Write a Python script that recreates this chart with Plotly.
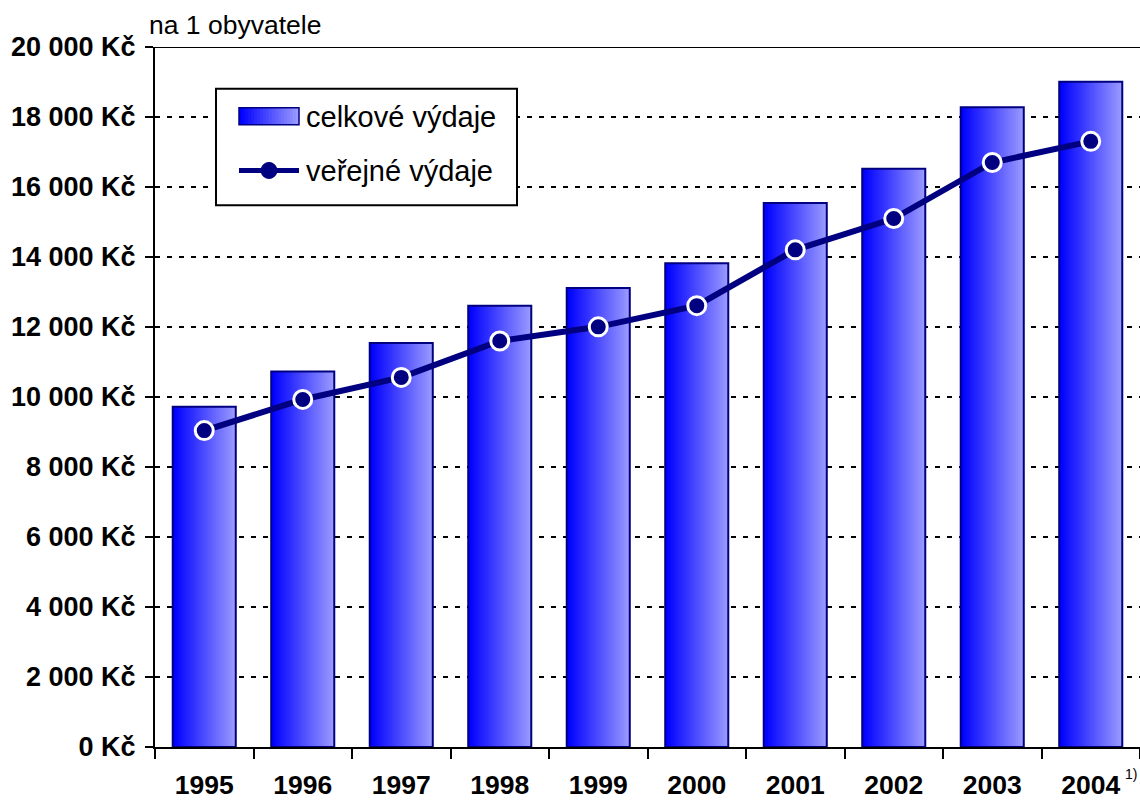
import plotly.graph_objects as go

# ---- data ----
years = ["1995", "1996", "1997", "1998", "1999", "2000", "2001", "2002", "2003", "2004"]
total_spending = [9720, 10730, 11540, 12610, 13115, 13820, 15540, 16520, 18280, 19010]
public_spending = [9040, 9930, 10560, 11600, 12005, 12610, 14205, 15100, 16700, 17305]
y_tick_values = [0, 2000, 4000, 6000, 8000, 10000, 12000, 14000, 16000, 18000, 20000]
y_tick_labels = ["0 Kč", "2 000 Kč", "4 000 Kč", "6 000 Kč", "8 000 Kč", "10 000 Kč",
                 "12 000 Kč", "14 000 Kč", "16 000 Kč", "18 000 Kč", "20 000 Kč"]
name_total = "celkové výdaje"
name_public = "veřejné výdaje"
unit_label = "na 1 obyvatele"
footnote = "1)"

FONT = "Liberation Sans, Arial, sans-serif"
NAVY = "#000080"
W = 1140
H = 800
ML, MR, MT, MB = 155, 0, 47, 50
PW = W - ML - MR
PH = H - MT - MB

def lerp_color(t):
    r = int(round(0 + (153 - 0) * t))
    g = int(round(0 + (153 - 0) * t))
    return f"rgb({r},{g},255)"

fig = go.Figure()

bar_w = 0.64
N = 32
for i in range(N):
    t = i / (N - 1)
    off = -bar_w / 2 + i * bar_w / N
    fig.add_trace(go.Bar(
        x=years, y=total_spending, width=bar_w - i * bar_w / N, offset=off,
        marker=dict(color=lerp_color(t), line=dict(width=0)),
        showlegend=False, hoverinfo="skip",
    ))
# outline
fig.add_trace(go.Bar(
    x=years, y=total_spending, width=bar_w, offset=-bar_w / 2,
    marker=dict(color="rgba(0,0,0,0)", line=dict(color=NAVY, width=2)),
    name=name_total, showlegend=False,
))
fig.add_trace(go.Scatter(
    x=years, y=public_spending, mode="lines+markers", name=name_public,
    line=dict(color=NAVY, width=6),
    marker=dict(size=18, color=NAVY, line=dict(color="white", width=3)),
    showlegend=False,
))

def px_x(px):
    return (px - ML) / PW

def px_y(py):
    return (H - MB - py) / PH

shapes = []
# top border line
shapes.append(dict(type="line", xref="paper", yref="y", x0=0, x1=1, y0=20000, y1=20000,
                   line=dict(color="black", width=2)))
# legend box
shapes.append(dict(type="rect", xref="paper", yref="paper",
                   x0=px_x(216), x1=px_x(517), y0=px_y(206), y1=px_y(89),
                   line=dict(color="black", width=2), fillcolor="white", layer="above"))
# gradient legend icon
NI = 20
ix0, ix1, iy0, iy1 = 239, 299, 108, 125
for i in range(NI):
    t = i / (NI - 1)
    shapes.append(dict(type="rect", xref="paper", yref="paper",
                       x0=px_x(ix0 + (ix1 - ix0) * i / NI), x1=px_x(ix1),
                       y0=px_y(iy1), y1=px_y(iy0),
                       line=dict(width=0), fillcolor=lerp_color(t), layer="above"))
shapes.append(dict(type="rect", xref="paper", yref="paper",
                   x0=px_x(ix0), x1=px_x(ix1), y0=px_y(iy1), y1=px_y(iy0),
                   line=dict(color=NAVY, width=1.5), fillcolor="rgba(0,0,0,0)", layer="above"))
# line legend icon
ly = 171
shapes.append(dict(type="line", xref="paper", yref="paper",
                   x0=px_x(239), x1=px_x(299), y0=px_y(ly), y1=px_y(ly),
                   line=dict(color=NAVY, width=5), layer="above"))
shapes.append(dict(type="circle", xref="paper", yref="paper",
                   xsizemode="pixel", ysizemode="pixel",
                   xanchor=px_x(269), yanchor=px_y(ly),
                   x0=-8, x1=8, y0=-8, y1=8,
                   line=dict(color=NAVY, width=1), fillcolor=NAVY, layer="above"))

annotations = [
    dict(text=name_total, xref="paper", yref="paper", x=px_x(304), y=px_y(117),
         xanchor="left", yanchor="middle", showarrow=False,
         font=dict(family=FONT, size=29, color="black")),
    dict(text=name_public, xref="paper", yref="paper", x=px_x(304), y=px_y(172),
         xanchor="left", yanchor="middle", showarrow=False,
         font=dict(family=FONT, size=29, color="black")),
    dict(text=unit_label, xref="paper", yref="paper", x=px_x(147), y=px_y(25),
         xanchor="left", yanchor="middle", showarrow=False,
         font=dict(family=FONT, size=26.5, color="black")),
    dict(text=footnote, xref="paper", yref="paper", x=px_x(1123), y=px_y(777),
         xanchor="left", yanchor="middle", showarrow=False,
         font=dict(family=FONT, size=14, color="black")),
]

fig.update_layout(
    width=W, height=H,
    margin=dict(l=ML, r=MR, t=MT, b=MB, pad=0),
    plot_bgcolor="white", paper_bgcolor="white",
    barmode="overlay",
    showlegend=False,
    font=dict(family=FONT, color="black"),
    shapes=shapes,
    annotations=annotations,
    xaxis=dict(
        type="category", range=[-0.5, 9.5],
        showline=True, linecolor="black", linewidth=2,
        ticks="outside", tickson="boundaries", ticklen=10, tickwidth=2, tickcolor="black",
        tickfont=dict(family=FONT, size=26.5, color="black", weight="bold"),
        ticklabelstandoff=13,
        showgrid=False, zeroline=False, fixedrange=True,
    ),
    yaxis=dict(
        range=[0, 20000],
        tickvals=y_tick_values, ticktext=y_tick_labels,
        showline=True, linecolor="black", linewidth=2,
        ticks="outside", ticklen=8, tickwidth=2, tickcolor="black",
        tickfont=dict(family=FONT, size=27, color="black", weight="bold"),
        ticklabelstandoff=4,
        showgrid=True, gridcolor="black", gridwidth=2, griddash="5px,7px",
        zeroline=False, fixedrange=True,
    ),
)

fig.write_html("out.html", post_script="document.body.style.margin='0';", config={"displayModeBar": False})
